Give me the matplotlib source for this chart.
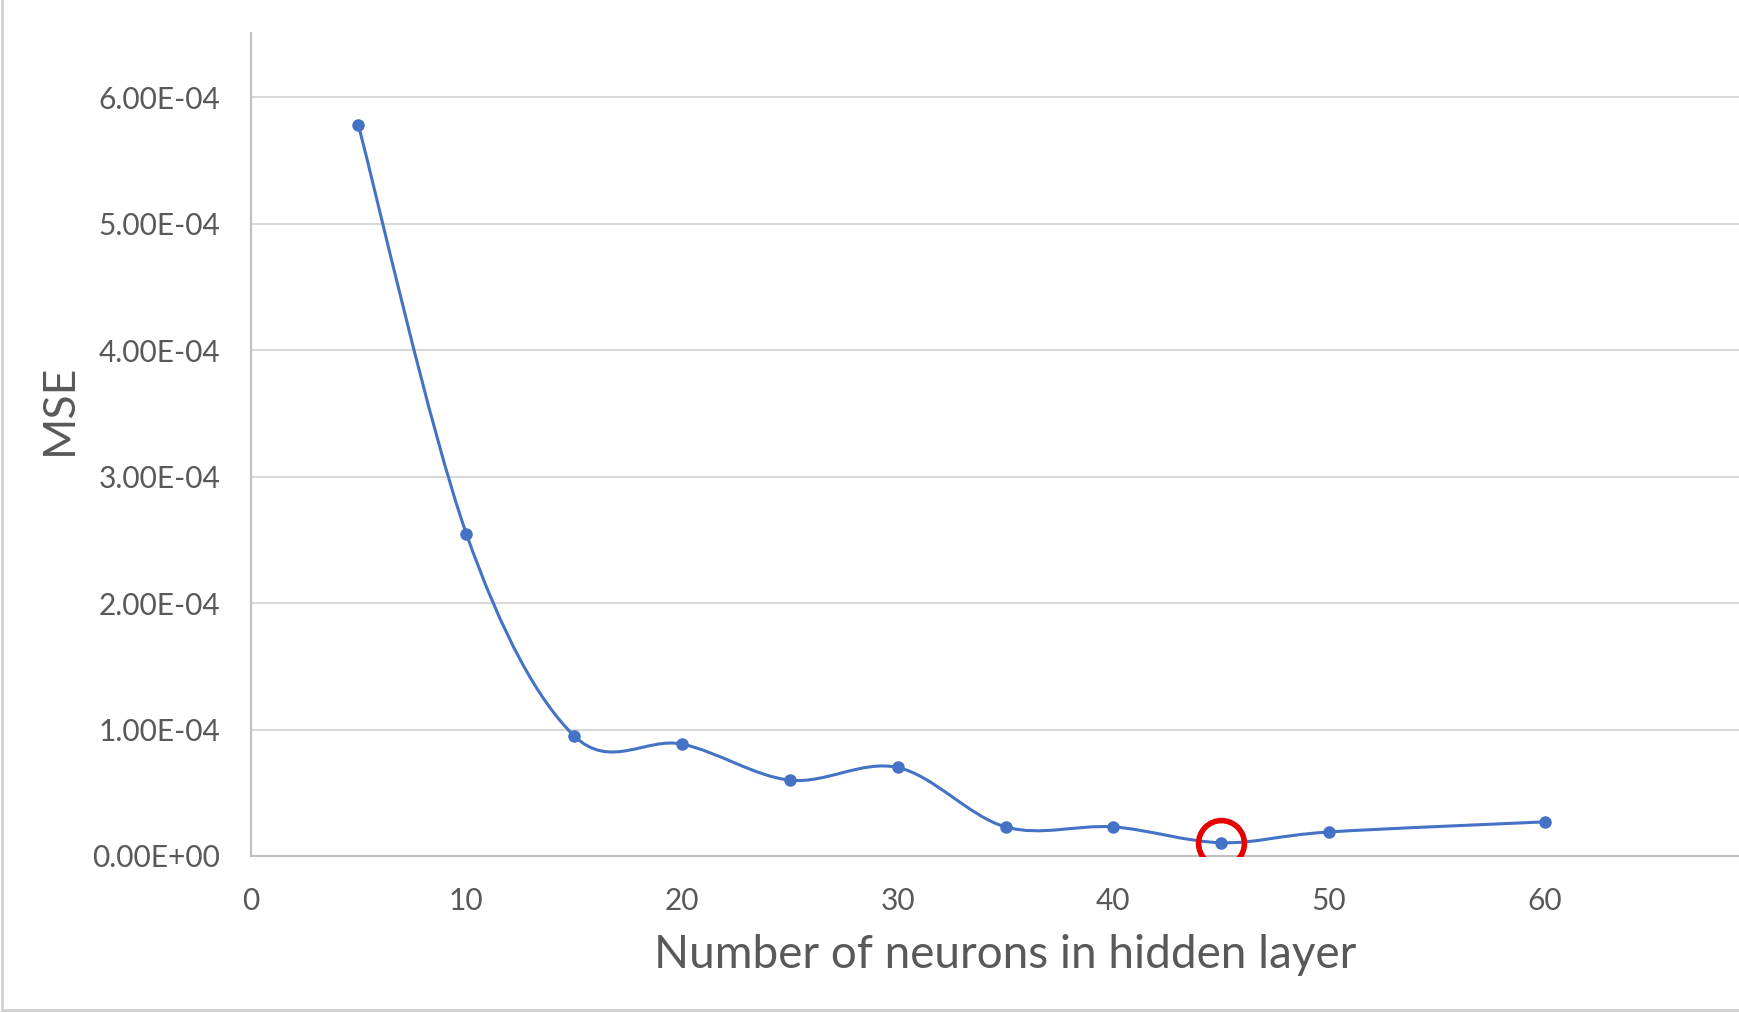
import numpy as np
import matplotlib
matplotlib.use("Agg")
import matplotlib.pyplot as plt
from matplotlib.path import Path
from matplotlib.patches import PathPatch
from matplotlib.lines import Line2D
from matplotlib.ticker import FuncFormatter, MultipleLocator

# data
neurons = [5, 10, 15, 20, 25, 30, 35, 40, 45, 50, 60]
mse = [5.78e-4, 2.55e-4, 0.95e-4, 0.885e-4, 0.60e-4, 0.70e-4,
       0.23e-4, 0.23e-4, 0.105e-4, 0.19e-4, 0.27e-4]
best_neurons = 45
best_mse = 0.105e-4

LINE_COLOR = '#4472C4'
TEXT_COLOR = '#595959'
GRID_COLOR = '#D9D9D9'
AXIS_COLOR = '#BFBFBF'

plt.rcParams['font.family'] = ['Lato', 'DejaVu Sans']


def smooth_path(xs, ys):
    """Excel-like smoothed line: cubic Bezier segments with Catmull-Rom control points."""
    pts = np.column_stack([xs, ys]).astype(float)
    n = len(pts)
    verts = [pts[0]]
    codes = [Path.MOVETO]
    for i in range(n - 1):
        p0 = pts[i - 1] if i > 0 else pts[i]
        p1 = pts[i]
        p2 = pts[i + 1]
        p3 = pts[i + 2] if i + 2 < n else pts[i + 1]
        c1 = p1 + (p2 - p0) / 6.0
        c2 = p2 - (p3 - p1) / 6.0
        verts += [c1, c2, p2]
        codes += [Path.CURVE4] * 3
    return Path(verts, codes)


fig = plt.figure(figsize=(17.39, 10.13), dpi=100)
ax = fig.add_axes([0.1441, 0.155, 1 - 0.1441, 0.9674 - 0.155])

ax.set_xlim(0, 69)
ax.set_ylim(0, 6.51e-4)

ax.add_patch(PathPatch(smooth_path(neurons, mse), facecolor='none',
                       edgecolor=LINE_COLOR, linewidth=2.2, zorder=3))
ax.plot(neurons, mse, linestyle='none', marker='o', markersize=8,
        color=LINE_COLOR, zorder=4)

# red circle highlighting the minimum
ax.plot([best_neurons], [best_mse], linestyle='none', marker='o',
        markersize=33, markerfacecolor='none', markeredgecolor='#E60000',
        markeredgewidth=4, zorder=5)

ax.xaxis.set_major_locator(MultipleLocator(10))
ax.yaxis.set_major_locator(MultipleLocator(1e-4))
ax.xaxis.set_major_formatter(FuncFormatter(lambda v, p: f'{v:.0f}' if v <= 60 else ''))
ax.yaxis.set_major_formatter(FuncFormatter(lambda v, p: f'{v:.2E}' if v <= 6.0001e-4 else ''))

ax.grid(axis='y', color=GRID_COLOR, linewidth=1.5)
ax.set_axisbelow(True)
for side in ['top', 'right']:
    ax.spines[side].set_visible(False)
ax.spines['left'].set_color(AXIS_COLOR)
ax.spines['bottom'].set_color(AXIS_COLOR)
ax.spines['left'].set_linewidth(1.5)
ax.spines['bottom'].set_linewidth(1.5)

ax.tick_params(axis='both', length=0, labelsize=21.5, labelcolor=TEXT_COLOR)
ax.tick_params(axis='y', pad=22)
ax.tick_params(axis='x', pad=22)

ax.set_xlabel('Number of neurons in hidden layer', fontsize=33,
              color=TEXT_COLOR, labelpad=14)
ax.xaxis.label.set_x(0.507)
fig.text(0.034, 0.596, 'MSE', rotation=90, ha='center', va='center',
         fontsize=32, color=TEXT_COLOR)

# chart area border (left and bottom visible in the reference crop)
fig.add_artist(Line2D([0.001, 0.001], [0.003, 1], transform=fig.transFigure,
                      color='#D0D0D0', linewidth=2))
fig.add_artist(Line2D([0.001, 1], [0.003, 0.003], transform=fig.transFigure,
                      color='#D0D0D0', linewidth=2))

fig.savefig('out.png', dpi=100)
